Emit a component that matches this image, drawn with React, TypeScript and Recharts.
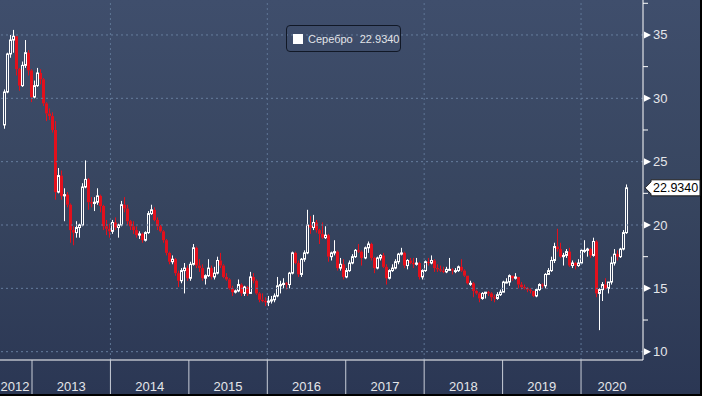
import React from 'react';
import { ComposedChart, Bar, XAxis, YAxis, ReferenceLine } from 'recharts';

// ---- data ----
const seriesName = 'Серебро';
const lastPrice = 22.934;
const lastPriceText = '22.9340';
const firstPeriodStart = '2012-08-13';
const periodDays = 14;

// [open, high, low, close] per two-week period
const silver2012 = [
  [27.9, 30.7, 27.6, 30.5], [30.5, 33.6, 30.4, 33.5], [33.5, 35.0, 33.2, 34.6], [34.6, 35.4, 33.6, 34.9],
  [34.9, 34.9, 31.8, 32.3], [32.3, 32.4, 30.6, 31.0], [31.0, 32.9, 30.9, 32.6], [32.6, 34.6, 32.4, 33.6],
  [33.6, 33.8, 31.8, 32.2], [32.2, 32.3, 29.7, 30.1],
];
const silver2013 = [
  [30.1, 31.4, 30.0, 31.0], [31.0, 32.4, 30.9, 32.0], [32.0, 32.3, 31.1, 31.5], [31.5, 31.6, 29.4, 29.6],
  [29.6, 29.7, 28.2, 28.8], [28.8, 29.2, 28.3, 28.6], [28.6, 28.9, 27.3, 27.5], [27.5, 28.2, 22.0, 22.6],
  [22.6, 24.5, 22.5, 23.9], [23.9, 24.3, 22.0, 22.3], [22.3, 22.9, 20.3, 22.4], [22.4, 22.6, 21.4, 21.6],
  [21.6, 21.7, 18.6, 19.6], [19.6, 19.9, 18.4, 19.4], [19.4, 20.3, 19.0, 19.8], [19.8, 20.1, 19.0, 20.0],
  [20.0, 23.3, 19.9, 23.0], [23.0, 25.1, 22.9, 23.6], [23.6, 23.7, 21.2, 21.8], [21.8, 22.2, 21.4, 21.7],
  [21.7, 22.2, 21.1, 21.8], [21.8, 22.9, 21.6, 22.3], [22.3, 22.4, 21.0, 21.5], [21.5, 21.6, 19.6, 19.9],
  [19.9, 20.4, 19.2, 19.7], [19.7, 20.1, 19.0, 19.5],
];
const silver2014 = [
  [19.5, 20.4, 19.3, 20.2], [20.2, 20.6, 19.6, 19.8], [19.8, 20.1, 19.0, 20.0], [20.0, 21.9, 19.9, 21.6],
  [21.6, 22.2, 21.0, 21.3], [21.3, 21.6, 20.0, 20.3], [20.3, 20.4, 19.6, 19.9], [19.9, 20.3, 19.3, 19.6],
  [19.6, 19.9, 19.0, 19.2], [19.2, 19.5, 18.9, 19.3], [19.3, 19.4, 18.6, 18.8], [18.8, 19.5, 18.7, 19.4],
  [19.4, 21.1, 19.3, 20.9], [20.9, 21.6, 20.8, 21.2], [21.2, 21.4, 20.3, 20.4], [20.4, 20.6, 19.6, 19.9],
  [19.9, 20.0, 19.4, 19.5], [19.5, 19.6, 18.6, 18.8], [18.8, 18.9, 17.6, 17.8], [17.8, 17.9, 16.9, 17.1],
  [17.1, 17.6, 16.9, 17.3], [17.3, 17.4, 16.0, 16.2], [16.2, 16.4, 15.1, 15.6], [15.6, 16.6, 15.4, 16.4],
  [16.4, 17.0, 14.6, 16.6], [16.6, 16.8, 15.6, 15.8],
];
const silver2015 = [
  [15.8, 17.1, 15.6, 16.9], [16.9, 18.5, 16.8, 18.2], [18.2, 18.3, 16.6, 16.8], [16.8, 17.3, 16.3, 16.6],
  [16.6, 16.9, 15.6, 15.8], [15.8, 16.1, 15.3, 16.0], [16.0, 17.3, 15.9, 16.6], [16.6, 16.8, 15.7, 15.9],
  [15.9, 16.7, 15.7, 16.2], [16.2, 17.5, 16.1, 17.2], [17.2, 17.8, 16.6, 16.8], [16.8, 16.9, 15.8, 15.9],
  [15.9, 16.2, 15.6, 15.7], [15.7, 15.8, 14.9, 15.0], [15.0, 15.2, 14.4, 14.7], [14.7, 14.9, 14.6, 14.8],
  [14.8, 15.7, 14.7, 15.3], [15.3, 15.4, 14.4, 14.6], [14.6, 15.2, 14.4, 15.1], [15.1, 15.2, 14.4, 14.6],
  [14.6, 16.3, 14.6, 15.9], [15.9, 16.2, 15.4, 15.6], [15.6, 15.7, 14.5, 14.6], [14.6, 14.7, 13.9, 14.1],
  [14.1, 14.6, 13.9, 14.0], [14.0, 14.3, 13.6, 13.9],
];
const silver2016 = [
  [13.9, 14.4, 13.6, 14.0], [14.0, 14.4, 13.8, 14.1], [14.1, 14.6, 13.9, 14.4], [14.4, 15.9, 14.3, 15.2],
  [15.2, 15.6, 14.6, 15.3], [15.3, 15.8, 15.0, 15.4], [15.4, 15.5, 14.9, 15.3], [15.3, 16.3, 15.0, 16.2],
  [16.2, 17.9, 16.1, 17.8], [17.8, 17.9, 16.9, 17.0], [17.0, 17.2, 15.9, 16.1], [16.1, 17.4, 15.9, 17.3],
  [17.3, 18.0, 17.1, 17.8], [17.8, 21.2, 17.7, 20.0], [20.0, 20.7, 19.3, 19.8], [19.8, 20.8, 19.6, 20.2],
  [20.2, 20.4, 19.4, 19.6], [19.6, 19.7, 18.5, 19.3], [19.3, 20.2, 18.9, 19.0], [19.0, 19.9, 18.9, 19.2],
  [19.2, 19.3, 17.1, 17.5], [17.5, 17.9, 17.2, 17.8], [17.8, 18.8, 17.6, 17.9], [17.9, 18.0, 16.4, 16.6],
  [16.6, 17.4, 16.4, 16.9], [16.9, 17.3, 15.7, 15.9],
];
const silver2017 = [
  [15.9, 16.6, 15.8, 16.4], [16.4, 17.2, 16.3, 17.0], [17.0, 17.7, 16.9, 17.5], [17.5, 18.1, 17.4, 18.0],
  [18.0, 18.5, 17.8, 17.9], [17.9, 18.0, 16.8, 17.4], [17.4, 18.3, 17.3, 18.2], [18.2, 18.7, 17.8, 18.5],
  [18.5, 18.6, 17.2, 17.4], [17.4, 17.5, 16.2, 16.6], [16.6, 17.5, 16.5, 17.4], [17.4, 17.7, 17.2, 17.6],
  [17.6, 17.8, 16.6, 16.7], [16.7, 16.9, 15.3, 15.8], [15.8, 16.5, 15.7, 16.4], [16.4, 16.9, 16.3, 16.6],
  [16.6, 17.3, 16.5, 17.1], [17.1, 17.8, 16.9, 17.7], [17.7, 18.2, 17.6, 17.8], [17.8, 17.9, 16.6, 16.8],
  [16.8, 17.3, 16.5, 17.2], [17.2, 17.4, 16.9, 17.0], [17.0, 17.4, 16.6, 16.9], [16.9, 17.4, 16.8, 17.0],
  [17.0, 17.1, 15.7, 15.9], [15.9, 16.5, 15.7, 16.4],
];
const silver2018 = [
  [16.4, 17.2, 16.3, 17.1], [17.1, 17.4, 16.8, 17.0], [17.0, 17.6, 16.9, 17.2], [17.2, 17.3, 16.3, 16.6],
  [16.6, 16.9, 16.3, 16.5], [16.5, 16.8, 16.3, 16.4], [16.4, 16.7, 16.2, 16.3], [16.3, 16.7, 16.2, 16.5],
  [16.5, 17.4, 16.4, 16.5], [16.5, 16.6, 16.1, 16.4], [16.4, 16.6, 16.2, 16.4], [16.4, 16.8, 16.3, 16.7],
  [16.7, 17.3, 16.3, 16.4], [16.4, 16.5, 15.9, 16.0], [16.0, 16.0, 15.3, 15.4], [15.4, 15.6, 15.2, 15.4],
  [15.4, 15.5, 14.3, 14.8], [14.8, 14.9, 14.5, 14.6], [14.6, 14.7, 13.9, 14.2], [14.2, 14.7, 14.1, 14.6],
  [14.6, 14.7, 14.2, 14.7], [14.7, 14.8, 14.4, 14.6], [14.6, 14.7, 14.0, 14.3], [14.3, 14.5, 13.9, 14.2],
  [14.2, 14.7, 14.1, 14.5], [14.5, 14.9, 14.4, 14.7],
];
const silver2019 = [
  [14.7, 15.6, 14.7, 15.5], [15.5, 15.8, 15.4, 15.5], [15.5, 16.1, 15.2, 16.0], [16.0, 16.0, 15.6, 15.8],
  [15.8, 16.2, 15.7, 15.9], [15.9, 15.9, 15.0, 15.3], [15.3, 15.5, 14.9, 15.1], [15.1, 15.3, 14.9, 15.0],
  [15.0, 15.1, 14.7, 14.9], [14.9, 15.0, 14.6, 14.8], [14.8, 14.8, 14.3, 14.4], [14.4, 15.0, 14.3, 14.9],
  [14.9, 15.4, 14.8, 15.3], [15.3, 15.4, 15.0, 15.2], [15.2, 16.2, 15.0, 16.1], [16.1, 16.6, 16.1, 16.4],
  [16.4, 17.5, 16.3, 17.2], [17.2, 18.6, 17.0, 18.3], [18.3, 19.7, 17.9, 18.1], [18.1, 18.6, 17.4, 17.5],
  [17.5, 17.8, 16.8, 17.6], [17.6, 18.1, 17.4, 17.9], [17.9, 18.2, 16.7, 16.8], [16.8, 17.2, 16.6, 17.0],
  [17.0, 17.1, 16.5, 16.8], [16.8, 17.3, 16.7, 17.0],
];
const silver2020 = [
  [17.0, 18.1, 16.9, 18.0], [18.0, 18.8, 17.8, 18.0], [18.0, 18.2, 17.5, 18.1], [18.1, 18.2, 17.4, 17.6],
  [17.6, 19.0, 17.5, 18.7], [18.7, 18.8, 14.3, 14.6], [14.6, 15.0, 11.7, 14.9], [14.9, 15.5, 14.0, 15.3],
  [15.3, 15.8, 14.9, 15.0], [15.0, 15.5, 14.6, 15.5], [15.5, 17.5, 15.3, 17.0], [17.0, 18.1, 16.8, 17.7],
  [17.7, 18.0, 17.2, 17.5], [17.5, 18.2, 17.4, 18.1], [18.1, 19.6, 18.0, 19.4], [19.4, 23.2, 19.3, 22.934],
];

const yearBoundaries = [2013, 2014, 2015, 2016, 2017, 2018, 2019, 2020];
const yearLabels = [2012, 2013, 2014, 2015, 2016, 2017, 2018, 2019, 2020];
const gridYears = [2014, 2016, 2018, 2020];
const majorPriceTicks = [10, 15, 20, 25, 30, 35];
const minorPriceTicks = [12.5, 17.5, 22.5, 27.5, 32.5, 37.5];

// ---- layout ----
const W = 702;
const H = 396;
const X_DOMAIN: [number, number] = [2012.592, 2020.79];
const Y_DOMAIN: [number, number] = [9.345, 37.76];
const FONT = '"Liberation Sans", Arial, sans-serif';
const UP = '#ffffff';
const DOWN = '#e3101c';

const DAY = 86400000;
const toDecimalYear = (ms: number) => {
  const y = new Date(ms).getUTCFullYear();
  const a = Date.UTC(y, 0, 1);
  const b = Date.UTC(y + 1, 0, 1);
  return y + (ms - a) / (b - a);
};
const startMs = Date.parse(firstPeriodStart + 'T00:00:00Z');
const allPeriods = [
  silver2012, silver2013, silver2014, silver2015, silver2016,
  silver2017, silver2018, silver2019, silver2020,
].flat();
const data = allPeriods.map(([open, high, low, close], i) => ({
  t: toDecimalYear(startMs + (i * periodDays + periodDays / 2) * DAY),
  open, high, low, close,
  range: [low, high],
}));

const labelValue = (y: number) => {
  const a = Math.max(y, X_DOMAIN[0]);
  const b = Math.min(y + 1, X_DOMAIN[1]);
  return (a + b) / 2;
};
const xTicks = [...yearBoundaries, ...yearLabels.map(labelValue)].sort((p, q) => p - q);
const yTicks = [...majorPriceTicks, ...minorPriceTicks, lastPrice].sort((p, q) => p - q);

const Candle = (props: any) => {
  const { x, y, width, height, payload } = props;
  if (!payload || height == null) return null;
  const { open, close, high, low } = payload;
  const ratio = high > low ? height / (high - low) : 0;
  const yO = y + (high - open) * ratio;
  const yC = y + (high - close) * ratio;
  const top = Math.min(yO, yC);
  const bot = Math.max(yO, yC);
  const px = Math.round(x + width / 2);
  const cx = px + 0.5;
  const up = close >= open;
  const color = up ? UP : DOWN;
  return (
    <g>
      <line x1={cx} x2={cx} y1={y} y2={top} stroke={color} strokeWidth={1} />
      <line x1={cx} x2={cx} y1={bot} y2={y + height} stroke={color} strokeWidth={1} />
      {up ? (
        <rect x={px - 0.5} y={top} width={2} height={Math.max(bot - top, 1)} fill="none" stroke={UP} strokeWidth={1} />
      ) : (
        <rect x={px - 1} y={top} width={3} height={Math.max(bot - top, 1)} fill={DOWN} />
      )}
    </g>
  );
};

const YearTick = (props: any) => {
  const { x, y, payload } = props;
  const v = payload.value;
  if (Number.isInteger(v)) {
    return <line x1={x} x2={x} y1={y} y2={y + 34} stroke="#c9ced8" strokeWidth={1} />;
  }
  const year = Math.floor(v);
  const dx = year === yearLabels[0] ? -1 : 0;
  return (
    <text x={x + dx} y={y + 31} textAnchor="middle" fontSize={13} fontFamily={FONT} fill="#e4e6ea">
      {year}
    </text>
  );
};

const PriceTick = (props: any) => {
  const { x, y, payload } = props;
  const v = payload.value;
  if (v === lastPrice) {
    const pts = `${x + 2},${y} ${x + 8},${y - 6} ${x + 8},${y - 8} ${x + 57},${y - 8} ${x + 57},${y + 8} ${x + 8},${y + 8} ${x + 8},${y + 6}`;
    return (
      <g>
        <polygon points={pts} fill="#ffffff" stroke="#1a1a1a" strokeWidth={1} />
        <text x={x + 10} y={y} dominantBaseline="central" fontSize={12.5} fontFamily={FONT} fill="#000000">
          {lastPriceText}
        </text>
      </g>
    );
  }
  if (majorPriceTicks.includes(v)) {
    return (
      <g>
        <polygon points={`${x + 1},${y - 3.5} ${x + 8},${y} ${x + 1},${y + 3.5}`} fill="#ffffff" />
        <text x={x + 10} y={y} dominantBaseline="central" fontSize={13} fontFamily={FONT} fill="#e4e6ea">
          {v}
        </text>
      </g>
    );
  }
  return <line x1={x} x2={x + 5} y1={y} y2={y} stroke="#ffffff" strokeWidth={1} />;
};

export default function App() {
  return (
    <div style={{ position: 'absolute', left: 0, top: 0, width: W, height: H, background: '#000' }}>
      <div
        style={{
          position: 'absolute', left: 0, top: 0, width: W - 2, height: H - 2,
          background: 'linear-gradient(180deg, #3f4e6c 0%, #37455f 50%, #2b3754 100%)',
        }}
      />
      <div style={{ position: 'absolute', left: 0, top: 0 }}>
        <ComposedChart width={W} height={H} data={data} margin={{ top: 0, right: 0, bottom: 0, left: 0 }}>
          <XAxis
            dataKey="t" type="number" domain={X_DOMAIN} allowDataOverflow ticks={xTicks} interval={0}
            tick={<YearTick />} tickLine={false} tickSize={0} tickMargin={0} height={36}
            axisLine={{ stroke: '#ffffff', strokeWidth: 1 }}
          />
          <YAxis
            orientation="right" type="number" domain={Y_DOMAIN} allowDataOverflow ticks={yTicks} interval={0}
            tick={<PriceTick />} tickLine={false} tickSize={0} tickMargin={0} width={59}
            axisLine={{ stroke: '#ffffff', strokeWidth: 1 }}
          />
          {majorPriceTicks.map((v) => (
            <ReferenceLine key={'h' + v} y={v} stroke="#667d9e" strokeDasharray="2 3" strokeWidth={1} />
          ))}
          {gridYears.map((v) => (
            <ReferenceLine key={'v' + v} x={v} stroke="#5f7696" strokeDasharray="2 3" strokeWidth={1} />
          ))}
          <Bar dataKey="range" barSize={2} isAnimationActive={false} shape={(p: any) => <Candle {...p} />} />
        </ComposedChart>
      </div>
      <div
        style={{
          position: 'absolute', left: 286, top: 25, width: 115, height: 27, boxSizing: 'border-box',
          border: '1px solid #111826', borderRadius: 4, display: 'flex', alignItems: 'center',
          paddingLeft: 6, fontFamily: FONT, fontSize: 11, color: '#e2e4e8', whiteSpace: 'pre',
        }}
      >
        <span style={{ display: 'inline-block', width: 10, height: 10, background: '#ffffff', marginRight: 5 }} />
        <span>{seriesName}</span>
        <span style={{ marginLeft: 7 }}>{lastPriceText}</span>
      </div>
    </div>
  );
}
